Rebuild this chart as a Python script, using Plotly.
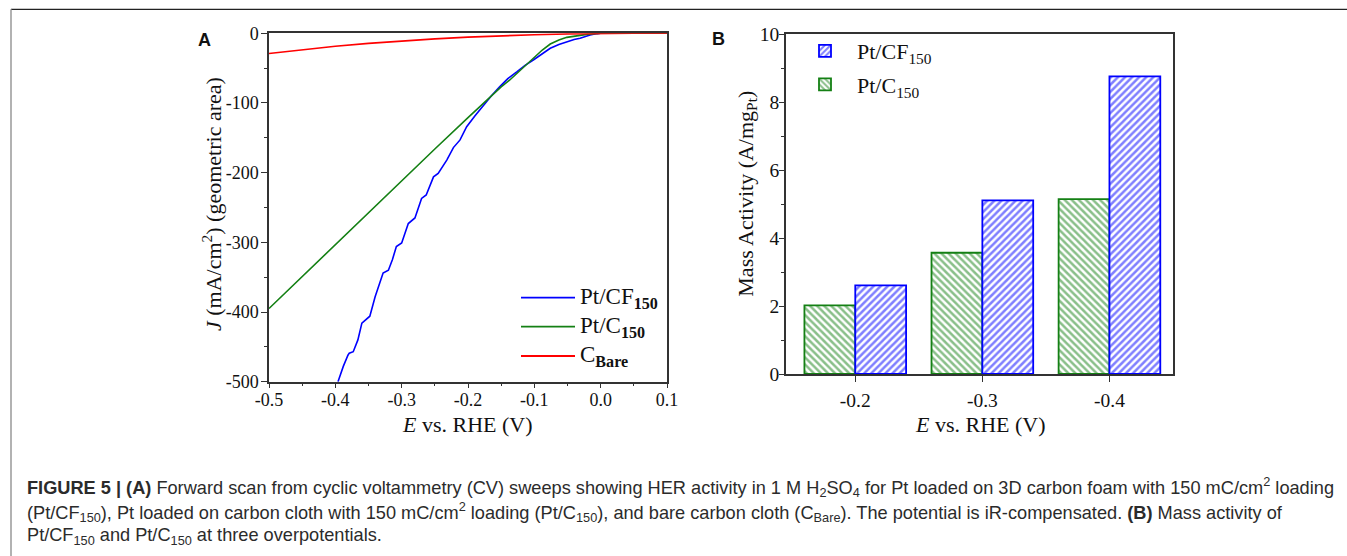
import plotly.graph_objects as go

# ---------------- Panel A: forward-scan HER polarisation curves ----------------
# Pt/CF150 (E in V vs RHE, J in mA/cm^2)
e_cf = [-0.396, -0.388, -0.381, -0.379, -0.373, -0.366, -0.360, -0.352, -0.348,
        -0.340, -0.334, -0.328, -0.320, -0.314, -0.308, -0.300, -0.290, -0.280,
        -0.270, -0.263, -0.252, -0.245, -0.232, -0.222, -0.212, -0.202, -0.190,
        -0.177, -0.165, -0.152, -0.140, -0.126, -0.114, -0.101, -0.088, -0.076,
        -0.063, -0.051, -0.040, -0.031, -0.016, -0.005, 0.0, 0.05, 0.1]
j_cf = [-500, -478, -462, -459, -457, -440, -416, -409, -406,
        -378, -360, -344, -340, -325, -306, -301, -273, -265,
        -237, -232, -206, -201, -182, -164, -153, -134, -119,
        -103, -90, -76.6, -65, -55, -46, -38, -29, -21.5,
        -16, -12, -9, -7, -2.4, -0.4, 0, 0, 0]

# Pt/C150
e_c = [-0.5, -0.45, -0.4, -0.35, -0.3, -0.25, -0.2, -0.17, -0.15, -0.137,
       -0.12, -0.101, -0.088, -0.076, -0.063, -0.051, -0.035, -0.021, -0.01,
       0.0, 0.05, 0.1]
j_c = [-395, -349, -303, -257, -211, -166, -121, -94, -77, -67,
       -52, -34.5, -24, -15.4, -9.5, -5.8, -3, -1.5, -0.5,
       0, 0, 0]

# Bare carbon cloth
e_bare = [-0.5, -0.45, -0.4, -0.35, -0.3, -0.25, -0.2, -0.15, -0.1, -0.05,
          0.0, 0.05, 0.1]
j_bare = [-29, -23.5, -18.5, -14.5, -11, -8, -5.5, -3.5, -2, -0.8,
          0, 0, 0]

a_names = ["Pt/CF<sub><b>150</b></sub>", "Pt/C<sub><b>150</b></sub>", "C<sub><b>Bare</b></sub>"]

a_xticks = [-0.5, -0.4, -0.3, -0.2, -0.1, 0.0, 0.1]
a_xtext = ["-0.5", "-0.4", "-0.3", "-0.2", "-0.1", "0.0", "0.1"]
a_yticks = [-500, -400, -300, -200, -100, 0]
a_ytext = ["-500", "-400", "-300", "-200", "-100", "0"]

# ---------------- Panel B: mass activity ----------------
potentials = ["-0.2", "-0.3", "-0.4"]
ma_c = [2.02, 3.57, 5.15]
ma_cf = [2.61, 5.11, 8.76]
b_yticks = [0, 2, 4, 6, 8, 10]

BLUE = "#0000ff"
GREEN = "#148014"
RED = "#ff0000"
AXC = "#333333"
TXT = "#111111"
SERIF = "Liberation Serif"
W, H = 1347, 556


def px_x(p):
    return p / W


def px_y(p):
    return 1 - p / H


fig = go.Figure()

a_colors = [BLUE, GREEN, RED]
for xs, ys, name, col in zip([e_cf, e_c, e_bare], [j_cf, j_c, j_bare], a_names, a_colors):
    fig.add_trace(go.Scatter(x=xs, y=ys, mode="lines", name=name, showlegend=False,
                             line=dict(color=col, width=1.6), xaxis="x", yaxis="y"))

fig.add_trace(go.Bar(x=potentials, y=ma_c, name="Pt/C<sub>150</sub>",
                     marker=dict(color="white", line=dict(color=GREEN, width=1.8),
                                 pattern=dict(shape="\\", fgcolor=GREEN, bgcolor="white",
                                              size=5, solidity=0.5)),
                     xaxis="x2", yaxis="y2", legend="legend2", legendrank=2,
                     legendgroup="c"))
fig.add_trace(go.Bar(x=potentials, y=ma_cf, name="Pt/CF<sub>150</sub>",
                     marker=dict(color="white", line=dict(color=BLUE, width=1.8),
                                 pattern=dict(shape="/", fgcolor=BLUE, bgcolor="white",
                                              size=5, solidity=0.5)),
                     xaxis="x2", yaxis="y2", legend="legend2", legendrank=1,
                     legendgroup="cf"))

font_a = dict(family=SERIF, size=18, color=TXT)
font_b = dict(family=SERIF, size=19.5, color=TXT)

common = dict(showline=True, linecolor=AXC, linewidth=1.5, showgrid=False,
              zeroline=False, ticks="outside", tickcolor=AXC, tickwidth=1.3,
              automargin=False, mirror=True)
inner = dict(showline=False, showgrid=False, zeroline=False, showticklabels=False,
             ticks="inside", ticklen=5, tickcolor=AXC, tickwidth=1.2, automargin=False)

fig.update_layout(
    width=W, height=H, autosize=False,
    margin=dict(l=0, r=0, t=0, b=0, pad=0, autoexpand=False),
    paper_bgcolor="white", plot_bgcolor="white",
    barmode="group", bargap=0.2, bargroupgap=0,
    xaxis=dict(domain=[px_x(269), px_x(667)], anchor="y", range=[-0.5, 0.1],
               tickmode="array", tickvals=a_xticks, ticktext=a_xtext,
               ticklen=5, tickfont=font_a, ticklabelstandoff=-4,
               minor=dict(tick0=-0.5, dtick=0.05, ticks="outside", ticklen=3,
                          tickcolor=AXC, tickwidth=1.2),
               **common),
    yaxis=dict(domain=[px_y(381.7), px_y(33.3)], anchor="x", range=[-500, 0],
               tickmode="array", tickvals=a_yticks, ticktext=a_ytext,
               ticklen=6, tickfont=font_a, ticklabelstandoff=-1,
               minor=dict(tick0=-500, dtick=50, ticks="outside", ticklen=3,
                          tickcolor=AXC, tickwidth=1.2),
               **common),
    # inward ticks on the top and right edges of panel A
    xaxis3=dict(overlaying="x", side="top", anchor="y", range=[-0.5, 0.1],
                tickmode="array", tickvals=a_xticks,
                minor=dict(tick0=-0.5, dtick=0.05, ticks="inside", ticklen=3,
                           tickcolor=AXC, tickwidth=1.2),
                **inner),
    yaxis3=dict(overlaying="y", side="right", anchor="x", range=[-500, 0],
                tickmode="array", tickvals=a_yticks,
                minor=dict(tick0=-500, dtick=50, ticks="inside", ticklen=4,
                           tickcolor=AXC, tickwidth=1.2),
                **inner),
    xaxis2=dict(domain=[px_x(786), px_x(1173)], anchor="y2", type="category",
                range=[-0.545, 2.5], ticklen=6, tickfont=font_b, ticklabelstandoff=2,
                **common),
    yaxis2=dict(domain=[px_y(374), px_y(34.3)], anchor="x2", range=[0, 10],
                tickmode="array", tickvals=b_yticks, ticklen=5, tickfont=font_b,
                ticklabelstandoff=-4,
                minor=dict(tick0=0, dtick=1, ticks="outside", ticklen=3,
                           tickcolor=AXC, tickwidth=1.2),
                **common),
    yaxis4=dict(overlaying="y2", side="right", anchor="x2", range=[0, 10],
                tickmode="array", tickvals=b_yticks,
                minor=dict(tick0=0, dtick=1, ticks="inside", ticklen=4,
                           tickcolor=AXC, tickwidth=1.2),
                **inner),
    legend2=dict(x=px_x(793), y=px_y(30), xanchor="left", yanchor="top",
                 bgcolor="rgba(0,0,0,0)", itemwidth=54, tracegroupgap=2,
                 font=dict(family=SERIF, size=22, color=TXT),
                 traceorder="grouped"),
    showlegend=True,
)


def label(text, x, y, size, family=SERIF, angle=0, xanchor="center"):
    fig.add_annotation(text=text, x=px_x(x), y=px_y(y), xref="paper", yref="paper",
                       xanchor=xanchor, yanchor="middle", showarrow=False,
                       textangle=angle, font=dict(family=family, size=size, color=TXT))


# axis titles
label("<i>E</i> vs. RHE (V)", 467.5, 424.3, 22)
label("<i>E</i> vs. RHE (V)", 980.7, 424, 22)
label("<i>J</i> (mA/cm<sup>2</sup>) (geometric area)", 212, 204, 22, angle=-90)
label("Mass Activity (A/mg<sub>Pt</sub>)", 746.7, 194, 22, angle=-90)

# panel letters
label("<b>A</b>", 204, 40, 18, family="Liberation Sans")
label("<b>B</b>", 718, 39, 18, family="Liberation Sans")

# key for panel A: line samples with their labels
key_rows = [297.7, 326.7, 356]
for name, col, yk in zip(a_names, a_colors, key_rows):
    fig.add_shape(type="line", xref="paper", yref="paper",
                  x0=px_x(521), x1=px_x(575), y0=px_y(yk), y1=px_y(yk),
                  line=dict(color=col, width=1.8))
    label(name, 578, yk, 23, xanchor="left")

# figure caption
caption = [
    "<b>FIGURE 5 | (A)</b> Forward scan from cyclic voltammetry (CV) sweeps showing HER activity "
    "in 1 M H<sub>2</sub>SO<sub>4</sub> for Pt loaded on 3D carbon foam with 150 mC/cm<sup>2</sup> loading",
    "(Pt/CF<sub>150</sub>), Pt loaded on carbon cloth with 150 mC/cm<sup>2</sup> loading "
    "(Pt/C<sub>150</sub>), and bare carbon cloth (C<sub>Bare</sub>). The potential is "
    "iR-compensated. <b>(B)</b> Mass activity of",
    "Pt/CF<sub>150</sub> and Pt/C<sub>150</sub> at three overpotentials.",
]
for text, yc in zip(caption, [487, 512, 536]):
    fig.add_annotation(text=text, x=px_x(25), y=px_y(yc), xref="paper", yref="paper",
                       xanchor="left", yanchor="middle", showarrow=False,
                       font=dict(family="Liberation Sans", size=18.2, color="#2b2b2b"))

# page frame: rule along the top and down the left side
fig.add_shape(type="line", xref="paper", yref="paper", x0=px_x(11), x1=1,
              y0=px_y(9.3), y1=px_y(9.3), line=dict(color="#222", width=1.3))
fig.add_shape(type="line", xref="paper", yref="paper", x0=px_x(11), x1=px_x(11),
              y0=px_y(9.3), y1=0, line=dict(color="#999", width=1.5))

fig.write_html("out.html")
